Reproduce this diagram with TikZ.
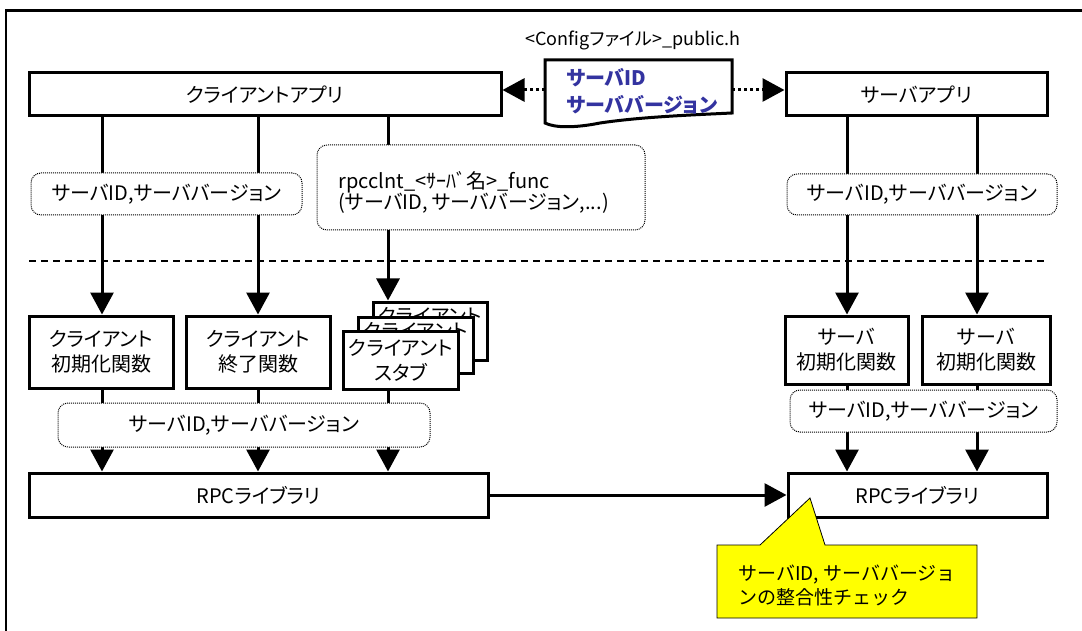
\documentclass[tikz,border=0pt]{standalone}
\usepackage{fontspec}
\setmainfont{Noto Sans CJK JP}[RawFeature=+palt]
\newfontfamily\fwfont{Noto Sans CJK JP}
\usetikzlibrary{arrows.meta}
\definecolor{docblue}{RGB}{51,51,160}
\definecolor{callyellow}{RGB}{255,255,0}
\begin{document}
\begin{tikzpicture}[x=1pt,y=-1pt,
  box/.style={draw, line width=3pt, fill=white, inner sep=0pt, align=center,
    font=\fontsize{20}{25}\selectfont},
  dbox/.style={draw, line width=1pt, dash pattern=on 1pt off 1pt,
    rounded corners=10pt, fill=white, inner sep=0pt,
    font=\fontsize{20}{25}\selectfont},
  arr/.style={line width=3pt, -{Triangle[length=22pt,width=23pt]}},
  darr/.style={line width=3pt, dash pattern=on 3pt off 3pt,
    -{Triangle[length=22pt,width=23pt]}},
  sep/.style={line width=1.3pt, dash pattern=on 7pt off 5pt},
]
\useasboundingbox (0,0) rectangle (1082,631);
\fill[white] (0,0) rectangle (1082,631);

% frame
\draw[line width=2.5pt] (6,650) -- (6,10.5) -- (1100,10.5);

% top boxes
\node[box, minimum width=472pt, minimum height=43pt] (capp) at (265,94.5) {クライアントアプリ};
\node[box, minimum width=261pt, minimum height=43pt] (sapp) at (916.5,94.5) {サーバアプリ};

% config document
\node[font=\fontsize{18}{20}\selectfont] (cfglabel) at (633,40) {<Configファイル>\_public.h};
\draw[line width=3pt, fill=white] (545,60) -- (732,60) -- (732,113)
  .. controls (690,115) and (640,117) .. (600,123)
  .. controls (575,128) and (555,128) .. (545,123) -- cycle;
\node[anchor=west, align=left, text=docblue, font=\fontsize{20}{27}\bfseries\selectfont] (doctext) at (563,91.5) {サーバID\\サーババージョン};
\coordinate (docL) at (545,90);
\coordinate (docR) at (732,90);
\draw[darr] (docL) -- (capp.east |- docL);
\draw[darr] (docR) -- (sapp.west |- docR);

% lower boxes
\node[box, minimum width=144pt, minimum height=72pt] (cinit) at (101,352) {クライアント\\初期化関数};
\node[box, minimum width=144pt, minimum height=72pt] (cend) at (258,352) {クライアント\\終了関数};
\node[box, minimum width=114pt, minimum height=58pt] (stubC) at (430,331) {};
\node[anchor=north, inner sep=0pt, font=\fontsize{20}{25}\selectfont] (stubCtext) at (430,307) {クライアント};
\node[box, minimum width=115pt, minimum height=56pt] (stubB) at (415.5,345) {};
\node[anchor=north, inner sep=0pt, font=\fontsize{20}{25}\selectfont] (stubBtext) at (415.5,322) {クライアント};
\node[box, minimum width=115pt, minimum height=58pt] (stubA) at (400.5,360) {クライアント\\スタブ};
\node[box, minimum width=123pt, minimum height=68pt] (sinit1) at (846.5,350) {サーバ\\初期化関数};
\node[box, minimum width=128pt, minimum height=68pt] (sinit2) at (986,350) {サーバ\\初期化関数};

\node[box, minimum width=459pt, minimum height=44pt] (crpc) at (258.5,495) {RPCライブラリ};
\node[box, minimum width=259pt, minimum height=44pt] (srpc) at (917.5,495) {RPCライブラリ};

% x positions of connectors
\coordinate (x1) at (102,0);
\coordinate (x2) at (258,0);
\coordinate (x3) at (388,0);
\coordinate (x4) at (847,0);
\coordinate (x5) at (977,0);

% connectors
\draw[arr] (capp.south -| x1) -- (cinit.north -| x1);
\draw[arr] (capp.south -| x2) -- (cend.north -| x2);
\draw[arr] (capp.south -| x3) -- (stubC.north -| x3);
\draw[arr] (sapp.south -| x4) -- (sinit1.north -| x4);
\draw[arr] (sapp.south -| x5) -- (sinit2.north -| x5);
\draw[arr] (cinit.south -| x1) -- (crpc.north -| x1);
\draw[arr] (cend.south -| x2) -- (crpc.north -| x2);
\draw[arr] (stubA.south -| x3) -- (crpc.north -| x3);
\draw[arr] (sinit1.south -| x4) -- (srpc.north -| x4);
\draw[arr] (sinit2.south -| x5) -- (srpc.north -| x5);
\draw[arr] (crpc.east) -- (srpc.west);

% separator
\draw[sep] (29,261) -- (1047,261);

% dotted parameter boxes
\node[dbox, minimum width=271pt, minimum height=42pt] (p1) at (166.5,194) {サーバID,サーババージョン};
\node[dbox, minimum width=270pt, minimum height=41pt] (p2) at (922,194.5) {サーバID,サーババージョン};
\node[dbox, minimum width=328pt, minimum height=85pt] (rpcf) at (481,187.5) {};
\node[anchor=west, align=left, font=\fontsize{20}{21}\selectfont] (rpcftext) at (335,192.5) {rpcclnt\_<ｻｰﾊﾞ名>\_func\\(サーバID, サーババージョン,...)};
\node[dbox, minimum width=372pt, minimum height=44pt] (p3) at (244,425) {サーバID,サーババージョン};
\node[dbox, minimum width=267pt, minimum height=42pt] (p4) at (923.5,411) {サーバID,サーババージョン};

% callout
\draw[line width=0.8pt, fill=callyellow] (717,545) -- (760,545) -- (810,498) -- (825,545)
  -- (977,545) -- (977,618) -- (717,618) -- cycle;
\node[anchor=west, align=left, font=\fwfont\fontsize{19}{24}\selectfont] (calltext) at (735,585) {サーバID, サーババージョ\\ンの整合性チェック};
\end{tikzpicture}
\end{document}
